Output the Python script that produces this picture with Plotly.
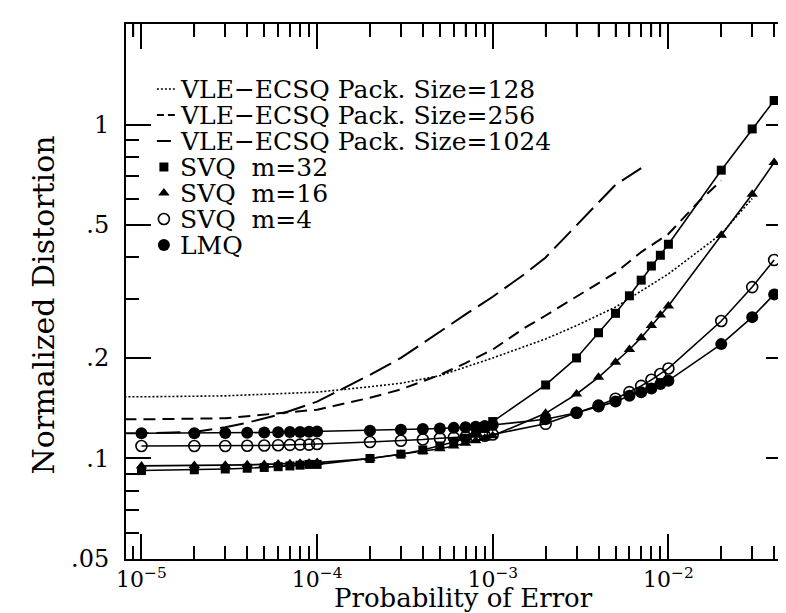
import math
import plotly.graph_objects as go

# ---------------- data ----------------
x_vle128 = [8e-6, 1e-5, 3e-5, 1e-4, 2e-4, 3e-4, 5e-4, 1e-3, 2e-3, 3e-3, 5e-3, 1e-2, 2e-2, 3e-2]
y_vle128 = [0.153, 0.153, 0.154, 0.158, 0.164, 0.168, 0.177, 0.200, 0.228, 0.250, 0.284, 0.357, 0.470, 0.600]

x_vle256 = [8e-6, 1e-5, 3e-5, 1e-4, 2e-4, 3e-4, 5e-4, 7e-4, 1e-3, 1.5e-3, 2e-3, 3e-3, 5e-3, 7e-3, 1e-2, 1.5e-2, 2e-2]
y_vle256 = [0.131, 0.131, 0.132, 0.140, 0.152, 0.161, 0.178, 0.193, 0.212, 0.245, 0.268, 0.305, 0.360, 0.415, 0.470, 0.590, 0.680]

x_vle1024 = [8e-6, 1e-5, 2e-5, 3e-5, 4e-5, 6e-5, 1e-4, 1.5e-4, 2e-4, 3e-4, 5e-4, 7e-4, 1e-3, 1.5e-3, 2e-3, 3e-3, 5e-3, 7e-3]
y_vle1024 = [0.119, 0.119, 0.120, 0.124, 0.128, 0.135, 0.148, 0.165, 0.178, 0.200, 0.240, 0.270, 0.305, 0.355, 0.400, 0.500, 0.660, 0.740]

x_svq = [1e-5, 2e-5, 3e-5, 4e-5, 5e-5, 6e-5, 7e-5, 8e-5, 9e-5,
         1e-4, 2e-4, 3e-4, 4e-4, 5e-4, 6e-4, 7e-4, 8e-4, 9e-4,
         1e-3, 2e-3, 3e-3, 4e-3, 5e-3, 6e-3, 7e-3, 8e-3, 9e-3,
         1e-2, 2e-2, 3e-2, 4e-2]

y_svq32 = [0.092, 0.0925, 0.093, 0.0935, 0.094, 0.0945, 0.095, 0.0955, 0.096,
           0.096, 0.100, 0.103, 0.106, 0.109, 0.112, 0.115, 0.119, 0.123,
           0.129, 0.166, 0.200, 0.238, 0.272, 0.307, 0.342, 0.377, 0.406,
           0.438, 0.730, 0.970, 1.180]

y_svq16 = [0.095, 0.0952, 0.0955, 0.0957, 0.096, 0.0962, 0.0965, 0.0967, 0.097,
           0.0972, 0.100, 0.103, 0.105, 0.107, 0.109, 0.111, 0.113, 0.115,
           0.117, 0.1365, 0.156, 0.175, 0.194, 0.212, 0.230, 0.250, 0.269,
           0.286, 0.466, 0.618, 0.770]

y_svq4 = [0.109, 0.109, 0.109, 0.1092, 0.1094, 0.1096, 0.1098, 0.110, 0.110,
          0.1105, 0.112, 0.113, 0.114, 0.115, 0.1155, 0.116, 0.1165, 0.117,
          0.118, 0.127, 0.137, 0.144, 0.151, 0.158, 0.165, 0.172, 0.179,
          0.186, 0.258, 0.326, 0.393]

y_lmq = [0.119, 0.119, 0.1192, 0.1194, 0.1196, 0.1198, 0.120, 0.120, 0.1202,
         0.1205, 0.121, 0.122, 0.1225, 0.123, 0.1235, 0.124, 0.1245, 0.125,
         0.126, 0.131, 0.137, 0.143, 0.148, 0.154, 0.158, 0.162, 0.167,
         0.171, 0.220, 0.265, 0.310]

legend_labels = ["VLE\u2212ECSQ Pack. Size=128", "VLE\u2212ECSQ Pack. Size=256",
                 "VLE\u2212ECSQ Pack. Size=1024", "SVQ  m=32", "SVQ  m=16",
                 "SVQ  m=4", "LMQ"]

x_major = [1e-5, 1e-4, 1e-3, 1e-2]
x_major_text = ["10<sup>\u22125</sup>", "10<sup>\u22124</sup>", "10<sup>\u22123</sup>", "10<sup>\u22122</sup>"]
x_minor = [9e-6] + [m * 10.0 ** e for e in (-5, -4, -3) for m in range(2, 10)] + [2e-2, 3e-2, 4e-2]

y_major = [0.05, 0.1, 0.2, 0.5, 1]
y_major_text = [".05", ".1", ".2", ".5", "1"]
y_minor = [0.06, 0.07, 0.08, 0.09, 0.3, 0.4, 0.6, 0.7, 0.8, 0.9]

x_title = "Probability of Error"
y_title = "Normalized Distortion"

# ---------------- styling ----------------
FONT = "DejaVu Serif"
BLK = "black"
XR = [-5.088, -1.302]
YR = [-1.301, 0.301]
W, H = 786, 613
ML, MR, MT, MB = 118, 1, 16, 62
PW, PH = W - ML - MR, H - MT - MB
MINOR_LEN = 13

fig = go.Figure()

line_w = 1.6
fig.add_trace(go.Scatter(x=x_vle128, y=y_vle128, mode="lines", showlegend=False,
                         line=dict(color=BLK, width=1.6, dash="2px,2px")))
fig.add_trace(go.Scatter(x=x_vle256, y=y_vle256, mode="lines", showlegend=False,
                         line=dict(color=BLK, width=2, dash="12px,7px")))
fig.add_trace(go.Scatter(x=x_vle1024, y=y_vle1024, mode="lines", showlegend=False,
                         line=dict(color=BLK, width=2, dash="24px,8px")))

series = [
    (y_svq32, "square", 9),
    (y_svq16, "triangle-up", 10),
    (y_svq4, "circle-open", 11),
    (y_lmq, "circle", 12),
]
for ys, sym, sz in series:
    fig.add_trace(go.Scatter(
        x=x_svq, y=ys, mode="lines+markers", showlegend=False,
        line=dict(color=BLK, width=line_w),
        marker=dict(symbol=sym, size=sz, color=BLK,
                    line=dict(color=BLK, width=1.6 if sym == "circle-open" else 0))))

# ---------------- pixel-like overlay axis: legend keys and mirrored minor ticks ----------------
LX0, LX1, LY0, LY1 = ML, W - MR, H - MB, MT
row_y = [81 + 26 * i for i in range(7)]
dash_styles = ["2px,2px", "7px,4px", "14px,4px"]
for i in range(3):
    fig.add_trace(go.Scatter(x=[149, 167], y=[row_y[i], row_y[i]], mode="lines",
                             xaxis="x2", yaxis="y2", showlegend=False, hoverinfo="skip",
                             line=dict(color=BLK, width=2 if i else 1.6, dash=dash_styles[i])))
leg_markers = [("square", 9), ("triangle-up", 10), ("circle-open", 11), ("circle", 12)]
for j, (sym, sz) in enumerate(leg_markers):
    fig.add_trace(go.Scatter(x=[156], y=[row_y[3 + j]], mode="markers",
                             xaxis="x2", yaxis="y2", showlegend=False, hoverinfo="skip",
                             marker=dict(symbol=sym, size=sz, color=BLK,
                                         line=dict(color=BLK, width=1.6 if sym == "circle-open" else 0))))

def xpix(v):
    return ML + (math.log10(v) - XR[0]) / (XR[1] - XR[0]) * PW

def ypix(v):
    return MT + (YR[1] - math.log10(v)) / (YR[1] - YR[0]) * PH

tx, ty = [], []
for v in x_minor:           # top edge
    p = xpix(v)
    tx += [p, p, None]
    ty += [MT, MT + MINOR_LEN, None]
for v in y_minor:           # right edge
    p = ypix(v)
    tx += [W - MR, W - MR - MINOR_LEN, None]
    ty += [p, p, None]
fig.add_trace(go.Scatter(x=tx, y=ty, mode="lines", xaxis="x2", yaxis="y2",
                         showlegend=False, hoverinfo="skip", connectgaps=False,
                         line=dict(color=BLK, width=1.5)))

annotations = []
for i, lab in enumerate(legend_labels):
    annotations.append(dict(x=170, y=row_y[i], xref="x2", yref="y2", text=lab,
                            showarrow=False, xanchor="left", yanchor="middle",
                            font=dict(family=FONT, size=25, color=BLK)))
annotations.append(dict(x=0.507, y=-0.104, xref="paper", yref="paper", text=x_title,
                        showarrow=False, xanchor="center", yanchor="bottom",
                        font=dict(family=FONT, size=26, color=BLK)))
annotations.append(dict(x=-0.124, y=0.475, xref="paper", yref="paper", text=y_title,
                        showarrow=False, xanchor="center", yanchor="middle", textangle=-90,
                        font=dict(family=FONT, size=30, color=BLK)))

fig.update_layout(
    width=W, height=H,
    margin=dict(l=ML, r=MR, t=MT, b=MB),
    paper_bgcolor="white", plot_bgcolor="white",
    showlegend=False,
    annotations=annotations,
    xaxis=dict(type="log", range=XR, showline=True, linecolor=BLK, linewidth=2, mirror="ticks",
               ticks="inside", tickcolor=BLK, tickwidth=1.5, ticklen=25,
               showgrid=False, zeroline=False,
               tickmode="array", tickvals=x_major, ticktext=x_major_text,
               tickfont=dict(family=FONT, size=22, color=BLK),
               minor=dict(tickvals=x_minor, ticks="inside", ticklen=MINOR_LEN, tickcolor=BLK, tickwidth=1.5, showgrid=False),
               ticklabelstandoff=0),
    yaxis=dict(type="log", range=YR, showline=True, linecolor=BLK, linewidth=2, mirror="ticks",
               ticks="inside", tickcolor=BLK, tickwidth=1.5, ticklen=25,
               showgrid=False, zeroline=False,
               tickmode="array", tickvals=y_major, ticktext=y_major_text,
               tickfont=dict(family=FONT, size=24, color=BLK),
               minor=dict(tickvals=y_minor, ticks="inside", ticklen=MINOR_LEN, tickcolor=BLK, tickwidth=1.5, showgrid=False),
               ticklabelstandoff=10),
    xaxis2=dict(overlaying="x", anchor="y2", range=[LX0, LX1], visible=False, fixedrange=True),
    yaxis2=dict(overlaying="y", anchor="x2", range=[LY0, LY1], visible=False, fixedrange=True),
)

fig.write_html("out.html")
